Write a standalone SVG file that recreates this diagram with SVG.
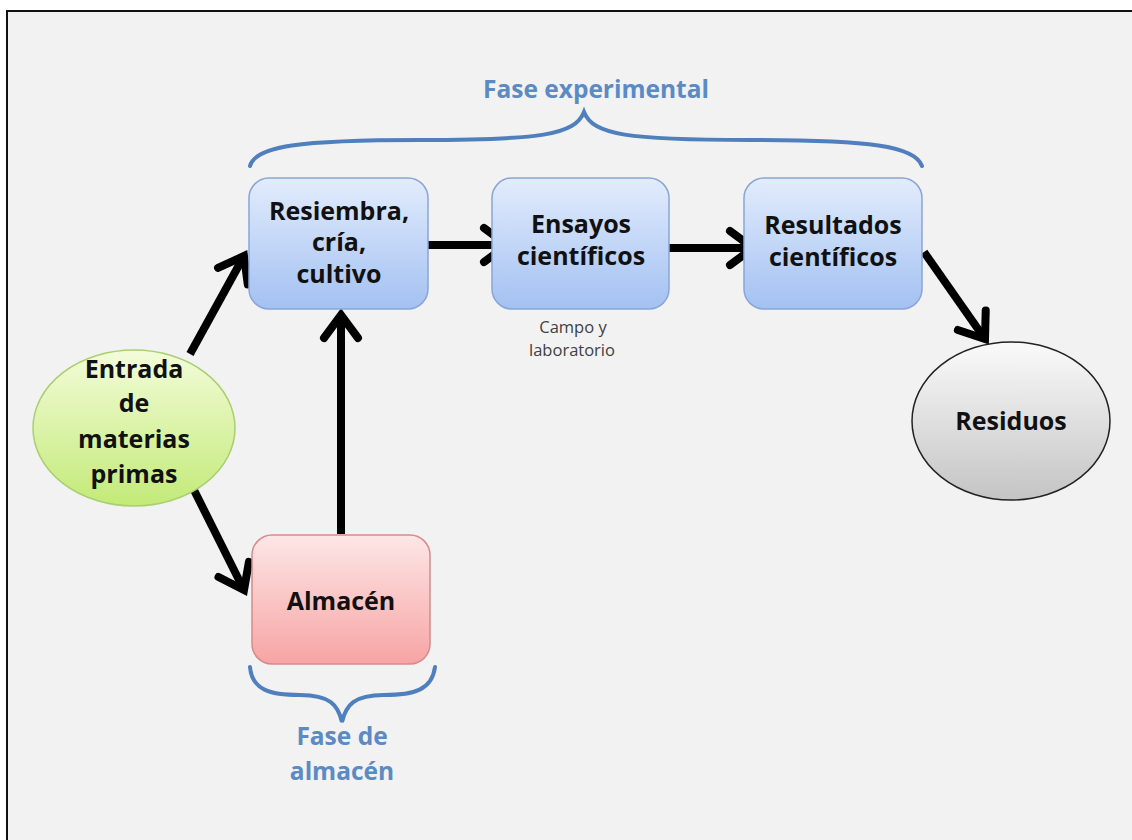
<svg xmlns="http://www.w3.org/2000/svg" width="1132" height="840" viewBox="0 0 1132 840">
<style>
.lbl{font-family:"Open Sans","Liberation Sans",sans-serif;font-weight:bold;font-size:25px;fill:#111;text-anchor:middle}
.phase{font-family:"Open Sans","Liberation Sans",sans-serif;font-weight:bold;font-size:24.5px;fill:#5b8ac5;text-anchor:middle}
.small{font-family:"Open Sans","Liberation Sans",sans-serif;font-size:16.5px;fill:#404040;text-anchor:middle}
.box{stroke:#8aa5d6;stroke-width:1.5}
.conn{stroke:#000;stroke-width:8;fill:none;marker-end:url(#chev)}
.brace{stroke:#4f7fbc;stroke-width:4;fill:none;stroke-linecap:round}
</style>
<defs>
<linearGradient id="gBlue" x1="0" y1="0" x2="0" y2="1"><stop offset="0" stop-color="#e2ecfc"/><stop offset="1" stop-color="#a3c1f2"/></linearGradient>
<linearGradient id="gRed" x1="0" y1="0" x2="0" y2="1"><stop offset="0" stop-color="#fde6e6"/><stop offset="1" stop-color="#f7a4a4"/></linearGradient>
<linearGradient id="gGreen" x1="0" y1="0" x2="0" y2="1"><stop offset="0" stop-color="#f3fcd9"/><stop offset="1" stop-color="#c3ea78"/></linearGradient>
<linearGradient id="gGray" x1="0" y1="0" x2="0" y2="1"><stop offset="0" stop-color="#fafafa"/><stop offset="1" stop-color="#c4c4c4"/></linearGradient>
<marker id="chev" markerUnits="userSpaceOnUse" viewBox="-34 -24 44 48" markerWidth="44" markerHeight="48" refX="0" refY="0" orient="auto">
<path d="M-23,-17 L0,0 L-23,17" fill="none" stroke="#000" stroke-width="8" stroke-linejoin="miter" stroke-linecap="round"/>
</marker>
</defs>
<rect x="0" y="0" width="1132" height="840" fill="#ffffff"/>
<rect x="7" y="11" width="1140" height="850" fill="#f2f2f2" stroke="#111" stroke-width="2"/>

<g id="braces">
<path class="brace" d="M250,166 C255,146 300,140 420,140 C540,140 575,135 584,112 C593,135 628,140 750,140 C870,140 915,146 922,166"/>
<path class="brace" d="M250,667 C252,690 270,695 300,695 C330,695 338,705 342,722 C346,705 354,695 384,695 C414,695 432,690 435,667"/>
</g>

<g id="connectors">
<line class="conn" x1="190" y1="354" x2="244" y2="256"/>
<line class="conn" x1="188" y1="478" x2="244" y2="590"/>
<line class="conn" x1="341" y1="534" x2="341" y2="315"/>
<line class="conn" x1="408" y1="245" x2="507" y2="245"/>
<line class="conn" x1="652" y1="248" x2="753" y2="248"/>
<line class="conn" x1="924" y1="252" x2="985" y2="339"/>
</g>

<g id="resiembra">
<rect class="box" x="249" y="178" width="179" height="131" rx="20" fill="url(#gBlue)"/>
<text class="lbl" x="339" y="220">Resiembra,</text>
<text class="lbl" x="339" y="251">cría,</text>
<text class="lbl" x="339" y="283">cultivo</text>
</g>
<g id="ensayos">
<rect class="box" x="492" y="178" width="177" height="131" rx="20" fill="url(#gBlue)"/>
<text class="lbl" x="581" y="233">Ensayos</text>
<text class="lbl" x="581" y="265">científicos</text>
<text class="small" x="573" y="333">Campo y</text>
<text class="small" x="572" y="356">laboratorio</text>
</g>
<g id="resultados">
<rect class="box" x="744" y="178" width="178" height="131" rx="20" fill="url(#gBlue)"/>
<text class="lbl" x="833" y="234">Resultados</text>
<text class="lbl" x="833" y="266">científicos</text>
</g>
<g id="entrada">
<ellipse cx="134" cy="428" rx="101" ry="78" fill="url(#gGreen)" stroke="#a9cf70" stroke-width="1.5"/>
<text class="lbl" x="134" y="378">Entrada</text>
<text class="lbl" x="134" y="412">de</text>
<text class="lbl" x="134" y="448">materias</text>
<text class="lbl" x="134" y="483">primas</text>
</g>
<g id="almacen">
<rect x="252" y="535" width="178" height="129" rx="20" fill="url(#gRed)" stroke="#d98a8a" stroke-width="1.5"/>
<text class="lbl" x="341" y="610">Almacén</text>
</g>
<g id="residuos">
<ellipse cx="1011" cy="421" rx="99" ry="79" fill="url(#gGray)" stroke="#222" stroke-width="1.5"/>
<text class="lbl" x="1011" y="430">Residuos</text>
</g>
<g id="phases">
<text class="phase" x="596" y="98">Fase experimental</text>
<text class="phase" x="342" y="745">Fase de</text>
<text class="phase" x="342" y="780">almacén</text>
</g>
</svg>
